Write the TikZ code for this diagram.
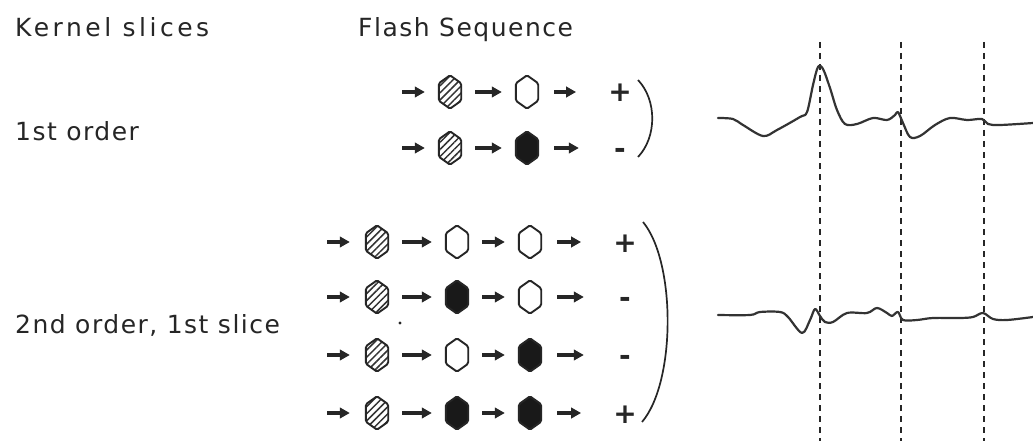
\documentclass[tikz,border=0pt]{standalone}
\usepackage{fontspec}
\newfontfamily\labfont[LetterSpace=6]{DejaVu Sans}
\newfontfamily\headfont[LetterSpace=14]{DejaVu Sans}
\newfontfamily\signfont{DejaVu Sans}
\usetikzlibrary{arrows.meta,patterns.meta}

% one flash: an elongated hexagon on a named (invisible) box
\newcommand\flashhex[4]{%
  \node[hexbox] (#1) at (#2,#3) {};
  \draw[hexline,#4] (#1.north) -- ([yshift=-8pt]#1.north east)
    -- ([yshift=8pt]#1.south east) -- (#1.south)
    -- ([yshift=8pt]#1.south west) -- ([yshift=-8pt]#1.north west) -- cycle;}

\begin{document}
\begin{tikzpicture}[x=1pt,y=-1pt,
  label/.style={anchor=base west, inner sep=0pt, text=black!85,
    font=\labfont\fontsize{25}{30}\selectfont},
  head/.style={label, font=\headfont\fontsize{25}{30}\selectfont},
  sign/.style={inner sep=0pt, minimum width=18pt, text height=20pt, text depth=0pt,
    font=\signfont\bfseries\fontsize{28}{30}\selectfont, text=black!85},
  hexbox/.style={inner sep=0pt, minimum width=22pt, minimum height=33pt},
  hexline/.style={line width=1.9pt, draw=black!85, rounded corners=1.5pt},
  hatched/.style={fill=white, pattern={Lines[angle=45,distance=5pt,line width=1.5pt]},
    pattern color=black!80},
  open/.style={fill=white},
  solid/.style={fill=black!90},
  flow/.style={line width=3.2pt, black!85, -{Triangle[length=10pt,width=10.5pt]}},
  between/.style={flow, shorten <=14pt, shorten >=14pt},
  tosign/.style={flow, shorten <=16pt, shorten >=32pt},
  paren/.style={line width=1.7pt, black!85},
  guide/.style={line width=1.8pt, dash pattern=on 6pt off 5pt, black!85},
  trace/.style={line width=2.2pt, black!80, line join=round, line cap=round}]

\useasboundingbox (0,0) rectangle (1033,441);
\fill[white] (0,0) rectangle (1033,441);

% headings and row labels
\node[head]  (tkernel) at (15,37)  {Kernel slices};
\node[label] (tflash)  at (358,37) {Flash Sequence};
\node[label] (tfirst)  at (15,141) {1st order};
\node[label] (tsecond) at (15,333) {2nd order, 1st slice};

% first order: two sequences
\coordinate (a0) at (402,92);
\flashhex{a1}{450}{92}{hatched}
\flashhex{a2}{527}{92}{open}
\node[sign] (as) at (620,92) {+};
\draw[flow, shorten >=14pt] (a0) -- (a1);
\draw[between] (a1) -- (a2);
\draw[tosign] (a2) -- (as);

\coordinate (b0) at (402,148);
\flashhex{b1}{450}{148}{hatched}
\flashhex{b2}{527}{148}{solid}
\node[sign] (bs) at (620,148) {-};
\draw[flow, shorten >=14pt] (b0) -- (b1);
\draw[between] (b1) -- (b2);
\draw[tosign] (b2) -- (bs);

\draw[paren] (638,80) .. controls (657,100) and (657,137) .. (638,157);

% second order, first slice: four sequences
\coordinate (c0) at (327,242);
\flashhex{c1}{377}{242}{hatched}
\flashhex{c2}{457}{242}{open}
\flashhex{c3}{530}{242}{open}
\node[sign] (cs) at (625,242) {+};

\coordinate (d0) at (327,297);
\flashhex{d1}{377}{297}{hatched}
\flashhex{d2}{457}{297}{solid}
\flashhex{d3}{530}{297}{open}
\node[sign] (ds) at (625,297) {-};

\coordinate (e0) at (327,355);
\flashhex{e1}{377}{355}{hatched}
\flashhex{e2}{457}{355}{open}
\flashhex{e3}{530}{355}{solid}
\node[sign] (es) at (625,355) {-};

\coordinate (f0) at (327,413);
\flashhex{f1}{377}{413}{hatched}
\flashhex{f2}{457}{413}{solid}
\flashhex{f3}{530}{413}{solid}
\node[sign] (fs) at (625,413) {+};

\foreach \r in {c,d,e,f}{
  \draw[flow, shorten >=16pt] (\r0) -- (\r1);
  \draw[between] (\r1) -- (\r2);
  \draw[between] (\r2) -- (\r3);
  \draw[tosign] (\r3) -- (\r s);
}
\fill[black!85] (400,323) circle (1.6pt);

\draw[paren] (643,222) .. controls (676,262) and (676,382) .. (642,422);

% flash times
\coordinate (g1) at (820,42);  \coordinate (h1) at (820,441);
\coordinate (g2) at (901,42);  \coordinate (h2) at (901,441);
\coordinate (g3) at (984,42);  \coordinate (h3) at (984,441);
\draw[guide] (g1) -- (h1);
\draw[guide] (g2) -- (h2);
\draw[guide] (g3) -- (h3);

% recorded kernel slices
\draw[trace] plot[smooth, tension=0.55] coordinates {
  (718,118) (733,119) (743,125) (763,136) (777,130) (800,117) (807,112)
  (813,85) (818,67) (823,69) (830,88) (837,110) (845,124) (857,124)
  (873,118) (887,120) (895,115) (898,112) (903,123) (910,137) (920,136)
  (935,125) (950,118) (967,120) (982,119) (988,124) (1000,125) (1033,123)};
\draw[trace] plot[smooth, tension=0.55] coordinates {
  (718,315) (750,315) (760,312) (780,312) (788,317) (802,333) (810,320)
  (815,309) (820,316) (825,322) (833,322) (847,313) (867,313) (877,308)
  (887,313) (892,316) (898,312) (903,320) (917,320) (933,318) (960,318)
  (973,317) (983,313) (993,319) (1007,320) (1033,317)};
\end{tikzpicture}
\end{document}
